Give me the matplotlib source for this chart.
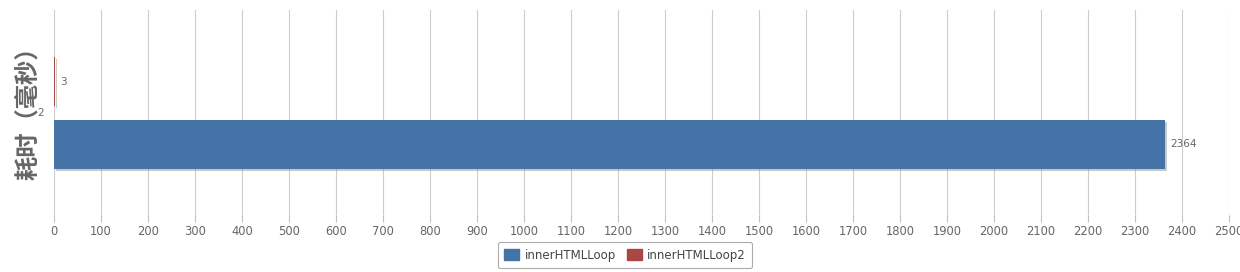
import matplotlib
matplotlib.use("Agg")
import matplotlib.pyplot as plt
import matplotlib.patheffects as pe

plt.rcParams['font.family'] = ['Noto Sans CJK SC', 'DejaVu Sans']

categories = ["2"]
series_names = ["innerHTMLLoop", "innerHTMLLoop2"]
series_values = [[2364], [3]]
series_colors = ["#4572A7", "#AA4643"]
x_ticks = list(range(0, 2501, 100))
y_label = "耗时（毫秒）"

fig = plt.figure(figsize=(12.4, 2.72), dpi=100)
ax = fig.add_axes([54/1240, 1 - 215/272, (1229-54)/1240, (215-10)/272])

bar_h = 0.24
offsets = [-0.155, 0.15]   # innerHTMLLoop lower, innerHTMLLoop2 upper
shadow = [pe.SimplePatchShadow(offset=(1.5, -1.5), shadow_rgbFace="#888888", alpha=0.45), pe.Normal()]
for vals, off, col in zip(series_values, offsets, series_colors):
    for i, v in enumerate(vals):
        b = ax.barh(i + off, v, height=bar_h, color=col, edgecolor="none", zorder=3)
        for p in b.patches:
            p.set_path_effects(shadow)
        ax.annotate(str(v), (v, i + off), xytext=(3.5, 0), textcoords="offset points",
                    va="center", ha="left", fontsize=7.5, color="#666666", family="DejaVu Sans")

ax.set_xlim(0, 2500)
ax.set_ylim(-0.5, 0.5)
ax.set_xticks(x_ticks)
ax.set_xticklabels([str(t) for t in x_ticks], fontsize=8.3, color="#666666", family="DejaVu Sans")
ax.tick_params(axis="x", length=5, color="#c0c0c0", width=0.8, pad=2)
ax.set_yticks([0.0])
ax.set_yticklabels(categories, fontsize=7.5, color="#666666", family="DejaVu Sans")
ax.tick_params(axis="y", length=0, pad=7)
for lab in ax.get_yticklabels():
    lab.set_verticalalignment("center")
ax.grid(axis="x", color="#cccccc", linewidth=0.8, zorder=0)
for s in ax.spines.values():
    s.set_visible(False)

fig.text(28/1240, 1 - 107/272, y_label, rotation=90, ha="center", va="center",
         fontsize=17.5, fontweight="black", color="#666666")

handles = [plt.Rectangle((0, 0), 1, 1, color=c) for c in series_colors]
leg = fig.legend(handles, series_names, loc="center", bbox_to_anchor=(625/1240, 1 - 255/272),
                 ncol=2, frameon=True, fancybox=True, edgecolor="#999999",
                 handlelength=1.3, handleheight=1.0, handletextpad=0.45, columnspacing=0.9,
                 borderpad=0.55, prop={"family": "DejaVu Sans", "size": 8.5})
leg.get_frame().set_linewidth(0.8)
for t in leg.get_texts():
    t.set_color("#444444")

fig.savefig("out.png", dpi=100, facecolor="white")
